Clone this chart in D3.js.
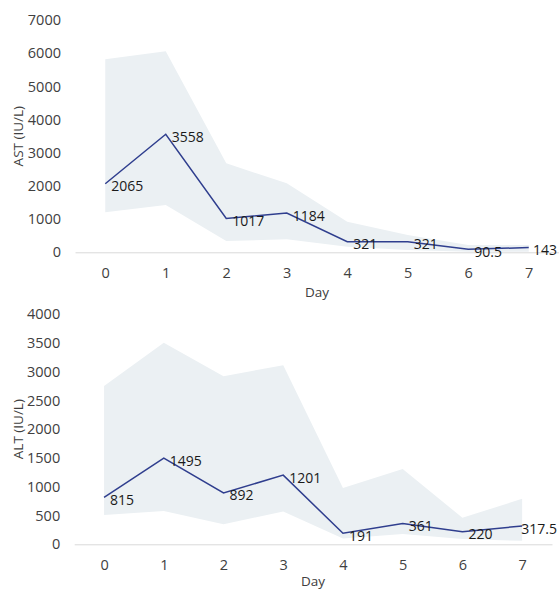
<!DOCTYPE html>
<html>
<head>
<meta charset="utf-8">
<script src="https://cdn.jsdelivr.net/npm/d3@7"></script>
<style>
  body { margin: 0; background: #fff; }
  svg { display: block; font-family: "Open Sans", sans-serif; }
  .axis-title { fill: #404040; font-size: 13.5px; }
  .data-label { fill: #1a1a1a; font-size: 14px; }
</style>
</head>
<body>
<svg id="chart" width="559" height="591"></svg>
<script>
const days = [0, 1, 2, 3, 4, 5, 6, 7];

const astMedian = [2065, 3558, 1017, 1184, 321, 321, 90.5, 143];
const astUpper  = [5820, 6060, 2680, 2080, 920, 520, 220, 220];
const astLower  = [1205, 1425, 340, 390, 170, 70, 20, 20];
const astTicks  = [0, 1000, 2000, 3000, 4000, 5000, 6000, 7000];

const altMedian = [815, 1495, 892, 1201, 191, 361, 220, 317.5];
const altUpper  = [2750, 3500, 2920, 3110, 980, 1310, 460, 790];
const altLower  = [510, 580, 350, 570, 100, 180, 90, 60];
const altTicks  = [0, 500, 1000, 1500, 2000, 2500, 3000, 3500, 4000];

const W = 559;
const svg = d3.select("#chart");

function styleTicks(axisG) {
  axisG.attr("font-family", null).attr("font-size", null);
  axisG.selectAll(".tick text")
    .style("font-family", "'Open Sans', sans-serif")
    .style("font-size", "14.5px")
    .style("fill", "#404040");
}

function drawPanel(cfg) {
  const g = svg.append("g");

  const x = d3.scalePoint()
    .domain(days)
    .range([cfg.left, cfg.right])
    .padding(0.5);

  const y = d3.scaleLinear()
    .domain([0, d3.max(cfg.ticks)])
    .range([cfg.bottom, cfg.top]);

  const rows = days.map((d, i) => ({
    day: d, med: cfg.median[i], hi: cfg.upper[i], lo: cfg.lower[i]
  }));

  // shaded range
  g.append("path")
    .datum(rows)
    .attr("fill", "#ebf0f3")
    .attr("d", d3.area()
      .x(d => x(d.day))
      .y0(d => y(d.lo))
      .y1(d => y(d.hi)));

  // x axis
  const xAxis = g.append("g")
    .attr("transform", `translate(0,${cfg.bottom})`)
    .call(d3.axisBottom(x).tickSize(0).tickPadding(15));
  xAxis.select(".domain").attr("stroke", "#d9d9d9");
  styleTicks(xAxis);

  // y axis
  const yAxis = g.append("g")
    .attr("transform", `translate(${cfg.left},0)`)
    .call(d3.axisLeft(y).tickValues(cfg.ticks).tickSize(0).tickPadding(14).tickFormat(d3.format("d")));
  yAxis.select(".domain").remove();
  styleTicks(yAxis);

  // median line
  g.append("path")
    .datum(rows)
    .attr("fill", "none")
    .attr("stroke", "#2f3e8e")
    .attr("stroke-width", 1.5)
    .attr("d", d3.line().x(d => x(d.day)).y(d => y(d.med)));

  // data labels, kept inside the picture like Excel does
  g.selectAll(".data-label")
    .data(rows)
    .join("text")
      .attr("class", "data-label")
      .attr("y", d => y(d.med) + 2)
      .attr("dominant-baseline", "central")
      .text(d => d.med)
      .attr("x", function(d) {
        const w = this.getComputedTextLength();
        return Math.min(x(d.day) + 6, W - 2 - w);
      });

  g.append("text")
    .attr("class", "axis-title")
    .attr("x", (cfg.left + cfg.right) / 2)
    .attr("y", Math.min(cfg.bottom + 45, 586))
    .attr("text-anchor", "middle")
    .text("Day");

  g.append("text")
    .attr("class", "axis-title")
    .attr("transform", "rotate(-90)")
    .attr("x", -(cfg.top + cfg.bottom) / 2)
    .attr("y", 23)
    .attr("text-anchor", "middle")
    .text(cfg.title);
}

drawPanel({
  left: 75, right: 559, top: 20, bottom: 252.3,
  ticks: astTicks, median: astMedian, upper: astUpper, lower: astLower,
  title: "AST (IU/L)"
});

drawPanel({
  left: 74.2, right: 552, top: 314, bottom: 544.3,
  ticks: altTicks, median: altMedian, upper: altUpper, lower: altLower,
  title: "ALT (IU/L)"
});
</script>
</body>
</html>
